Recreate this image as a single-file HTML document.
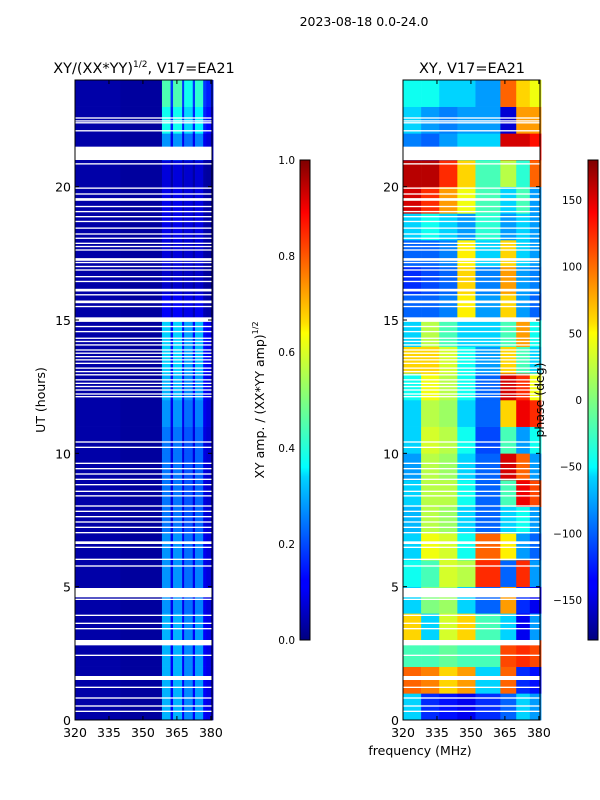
<!DOCTYPE html>
<html><head><meta charset="utf-8"><style>
body{margin:0;background:#fff}
svg{display:block;font-family:"DejaVu Sans","Liberation Sans",sans-serif}
</style></head><body>
<svg id="fig" width="600" height="800" viewBox="0 0 600 800" xmlns="http://www.w3.org/2000/svg">
<defs>
<linearGradient id="jet" x1="0" y1="1" x2="0" y2="0">
<stop offset="0" stop-color="#00007f"/><stop offset="0.11" stop-color="#0000ff"/><stop offset="0.125" stop-color="#0000ff"/><stop offset="0.34" stop-color="#00d4ff"/><stop offset="0.36" stop-color="#0ff"/><stop offset="0.5" stop-color="#7fff7f"/><stop offset="0.64" stop-color="#ff0"/><stop offset="0.66" stop-color="#ffe000"/><stop offset="0.89" stop-color="#f00"/><stop offset="1" stop-color="#7f0000"/>
</linearGradient>
</defs>
<text x="364" y="26" font-size="12.5" text-anchor="middle">2023-08-18 0.0-24.0</text>
<text x="144" y="73" font-size="14.5" text-anchor="middle">XY/(XX*YY)<tspan font-size="9" dy="-6">1/2</tspan><tspan dy="6">, V17=EA21</tspan></text>
<text x="472" y="73" font-size="14.5" text-anchor="middle">XY, V17=EA21</text>
<g id="left"></g>
<g id="right"></g>
<g id="axes"></g>
<text transform="translate(45,400) rotate(-90)" font-size="12.5" text-anchor="middle">UT (hours)</text>
<text x="420" y="755" font-size="12.5" text-anchor="middle">frequency (MHz)</text>
<rect x="300" y="160" width="10" height="480" fill="url(#jet)" stroke="#000" stroke-width="1"/>
<rect x="588" y="160" width="10" height="480" fill="url(#jet)" stroke="#000" stroke-width="1"/>
<text transform="translate(264,400) rotate(-90)" font-size="12.5" text-anchor="middle">XY amp. / (XX*YY amp)<tspan font-size="8" dy="-6">1/2</tspan></text>
<text transform="translate(544,400) rotate(-90)" font-size="12.5" text-anchor="middle">phase (deg)</text>
</svg>
<script>
const ampFreqEdges=[320,340,358.4,362.2,363.3,367.3,368.2,372,373,376.6,378,381];
const ampFreqVals=[0.04,0.03,0.3,0.12,0.3,0.12,0.26,0.12,0.28,0.12,0.1];
const ampHourVals=[1,1,1,1,0.9,0.9,0.9,0.8,0.8,0.8,0.8,0.9,1,1.1,1.1,0.4,0.25,0.3,0.35,0.35,0.3,0.9,1.3,1.5];
const phaseFreqEdges=[320,328,336,344,352,363,370,376,381];
const phaseGrid=[
[-60,-120,-130,-140,-120,-100,-60,-80],
[100,90,60,80,-60,100,-120,-130],
[-20,-20,-10,-20,-20,110,120,110],
[60,-60,30,60,-20,-60,-140,-80],
[-60,0,10,-60,-100,80,-120,-140],
[-40,-20,30,20,120,-100,120,-80],
[-60,40,30,-40,100,50,-80,-100],
[-70,20,10,-60,-100,-60,-40,-80],
[-60,20,20,-40,-100,-20,140,110],
[-80,20,10,-60,-100,150,100,-80],
[-60,30,20,-40,-110,-20,-80,-40],
[-60,20,10,-60,-100,60,140,120],
[-40,40,20,-40,-100,150,120,40],
[60,60,30,-40,-80,60,-20,-60],
[-60,20,-20,-60,-60,-20,80,-40],
[-100,-100,-90,50,-80,60,-80,-100],
[-120,-110,-100,60,-90,80,-80,-90],
[-100,-100,-90,50,-60,60,-60,-80],
[-60,-40,-60,-80,-30,-80,-60,-80],
[150,120,80,40,-20,-60,-20,-80],
[160,160,120,60,-20,20,-30,100],
[-90,-100,-80,-60,-60,150,150,130],
[-60,-80,-90,-80,-80,-150,80,80],
[-40,-40,-60,-60,-80,100,60,40]];
const gapStarts=[22.55,22.44,22.37,22.07,21.0,20.83,19.92,19.7,19.47,19.23,19.04,18.85,18.67,18.42,18.2,18.04,17.85,17.73,17.6,17.22,17.13,16.98,16.85,16.6,16.42,16.07,15.92,15.63,15.48,14.93,14.73,14.54,14.29,14.17,14.04,13.85,13.73,13.6,13.48,13.35,13.17,13.04,12.92,12.73,12.6,12.48,12.35,12.2,12.1,10.4,10.2,9.6,9.4,9.2,9.0,8.8,8.55,8.38,8.0,7.8,7.6,7.4,7.2,7.0,6.6,6.45,6.0,5.75,4.6,4.5,3.9,3.6,3.4,2.8,2.4,1.5,1.2,0.8,0.5,0.3];
const gapEnds=[22.6,22.49,22.42,22.12,21.5,20.88,19.97,19.75,19.57,19.28,19.09,18.9,18.72,18.47,18.25,18.09,17.9,17.78,17.65,17.32,17.18,17.03,16.9,16.65,16.47,16.17,15.97,15.73,15.53,15.1,14.78,14.59,14.34,14.22,14.09,13.9,13.78,13.65,13.53,13.4,13.22,13.09,12.97,12.78,12.65,12.53,12.4,12.25,12.15,10.45,10.25,9.65,9.45,9.25,9.05,8.85,8.6,8.43,8.05,7.85,7.65,7.45,7.25,7.05,6.7,6.5,6.05,5.8,4.95,4.55,3.95,3.65,3.45,3.0,2.45,1.65,1.25,0.85,0.55,0.35];
const xTicks=[320,335,350,365,380];
const yTicks=[0,5,10,15,20];
const ampTicks=[0.0,0.2,0.4,0.6,0.8,1.0];
const phaseTicks=[-150,-100,-50,0,50,100,150];

const NS='http://www.w3.org/2000/svg';
function jet(v){v=Math.max(0,Math.min(1,v));
 const r=Math.max(0,Math.min(1,1.5-Math.abs(4*v-3))),g=Math.max(0,Math.min(1,1.5-Math.abs(4*v-2))),b=Math.max(0,Math.min(1,1.5-Math.abs(4*v-1)));
 return `rgb(${Math.round(r*255)},${Math.round(g*255)},${Math.round(b*255)})`;}
const Y=h=>720-h*(640/24);
const XL=f=>75+(f-320)*(137/60.5);
const XR=f=>403+(f-320)*(137/60.5);
function mk(tag,attrs,parent){const e=document.createElementNS(NS,tag);for(const k in attrs)e.setAttribute(k,attrs[k]);parent.appendChild(e);return e;}
const L=document.getElementById('left'),R=document.getElementById('right'),A=document.getElementById('axes');
for(let i=0;i<ampHourVals.length;i++){
 for(let j=0;j<ampFreqVals.length;j++){
  const v=ampFreqVals[j]<0.1?ampFreqVals[j]:ampFreqVals[j]*ampHourVals[i];
  const r=mk('rect',{x:XL(ampFreqEdges[j]),y:Y(i+1),width:XL(ampFreqEdges[j+1])-XL(ampFreqEdges[j])+0.3,height:Y(i)-Y(i+1)+0.3,fill:jet(v)},L);
  
  
 }
}
for(let i=0;i<phaseGrid.length;i++){
 for(let j=0;j<phaseGrid[i].length;j++){
  const r=mk('rect',{x:XR(phaseFreqEdges[j]),y:Y(i+1),width:XR(phaseFreqEdges[j+1])-XR(phaseFreqEdges[j])+0.3,height:Y(i)-Y(i+1)+0.3,fill:jet((phaseGrid[i][j]+180)/360)},R);
  
  
 }
}
for(let k=0;k<gapStarts.length;k++){
 for(const [g,x0] of [[L,75],[R,403]]){
  const r=mk('rect',{x:x0,y:Y(gapEnds[k]),width:137,height:Math.max(1,Y(gapStarts[k])-Y(gapEnds[k])),fill:'#fff'},g);
  
  
 }
}
for(const [X,x0] of [[XL,75],[XR,403]]){
 const fr=mk('rect',{x:x0,y:80,width:137,height:640,fill:'none',stroke:'#000','stroke-width':1},A);
 
 
 xTicks.forEach(t=>{
  const x=X(t);
  mk('line',{x1:x,y1:720,x2:x,y2:716,stroke:'#000'},A);
  mk('line',{x1:x,y1:80,x2:x,y2:84,stroke:'#000'},A);
  const tx=mk('text',{x:x,y:737,'font-size':12.5,'text-anchor':'middle'},A);tx.textContent=t;
  
  
 });
 yTicks.forEach(t=>{
  const y=Y(t);
  mk('line',{x1:x0,y1:y,x2:x0+4,y2:y,stroke:'#000'},A);
  mk('line',{x1:x0+137,y1:y,x2:x0+133,y2:y,stroke:'#000'},A);
  const tx=mk('text',{x:x0-4,y:y+5,'font-size':12.5,'text-anchor':'end'},A);tx.textContent=t;
  
  
 });
}
ampTicks.forEach(t=>{
 const y=640-t*480;
 mk('line',{x1:300,y1:y,x2:310,y2:y,stroke:'#000'},A);
 const tx=mk('text',{x:295,y:y+4,'font-size':10.5,'text-anchor':'end'},A);tx.textContent=t.toFixed(1);
 
 
});
phaseTicks.forEach(t=>{
 const y=640-(t+180)/360*480;
 mk('line',{x1:588,y1:y,x2:598,y2:y,stroke:'#000'},A);
 const tx=mk('text',{x:582,y:y+4,'font-size':10.5,'text-anchor':'end'},A);tx.textContent=t<0?'\u2212'+(-t):t;
 
 
});
</script>
</body></html>
